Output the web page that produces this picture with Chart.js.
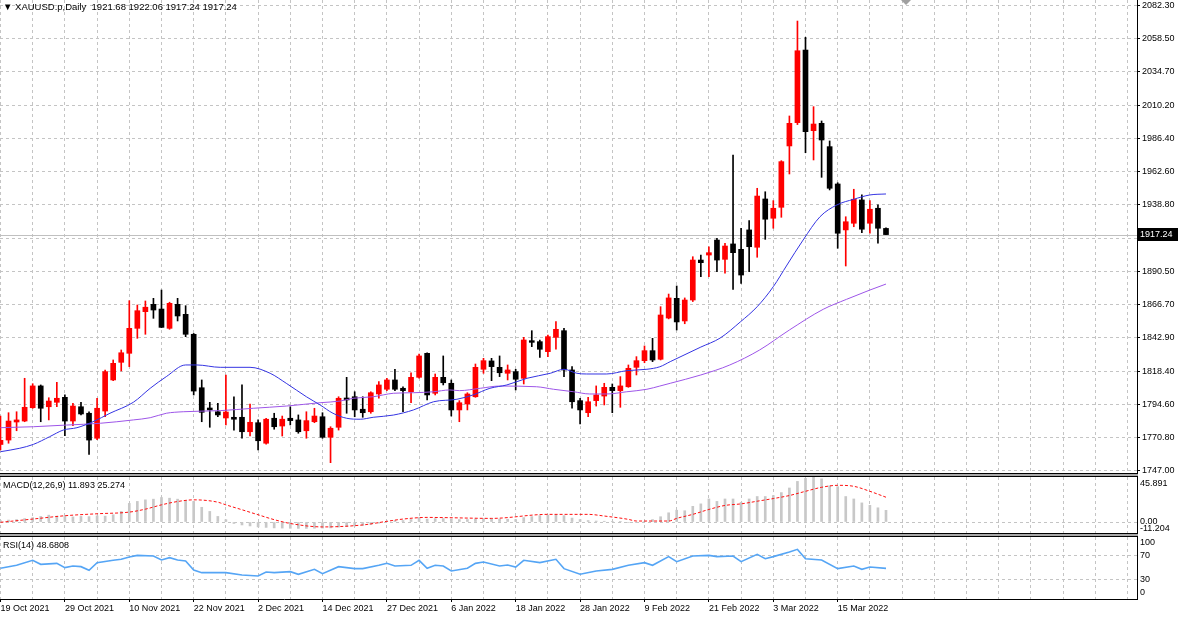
<!DOCTYPE html>
<html lang="en">
<head>
<meta charset="UTF-8">
<title>XAUUSD.p, Daily</title>
<script src="https://cdn.jsdelivr.net/npm/chart.js"></script>
<style>
    html, body { margin: 0; padding: 0; background: #fff; }
    #wrap { position: relative; width: 1178px; height: 617px; overflow: hidden; background: #fff;
            font-family: "Liberation Sans", Arial, sans-serif; }
    .pane { position: absolute; left: 0; width: 1178px; }
    .sep { position: absolute; left: 0; width: 1138px; height: 4px; box-sizing: border-box;
           border-top: 1px solid #000; border-bottom: 1px solid #000; background: #a8a8a8; }
    .caption { position: absolute; left: 3px; font-size: 9px; line-height: 10px; color: #000; white-space: pre; }
    .caption.head { font-size: 9.5px; }
    .shift { position: absolute; left: 901px; top: 0; width: 0; height: 0;
             border-left: 5px solid transparent; border-right: 5px solid transparent; border-top: 5px solid #a0a0a0; }
</style>
</head>
<body>
<div id="wrap">
    <div class="pane" style="top:0;height:477px"><canvas id="mainChart"></canvas></div>
    <div class="pane" style="top:477px;height:56px"><canvas id="macdChart"></canvas></div>
    <div class="pane" style="top:537px;height:80px"><canvas id="rsiChart"></canvas></div>
    <div class="sep" style="top:473px"></div>
    <div class="sep" style="top:533px"></div>
    <div class="shift"></div>
    <div class="caption head" style="top:2px">▼ XAUUSD.p,Daily  1921.68 1922.06 1917.24 1917.24</div>
    <div class="caption" style="top:480px">MACD(12,26,9) 11.893 25.274</div>
    <div class="caption" style="top:540px">RSI(14) 48.6808</div>
</div>

<script>
// date labels under the chart and the bar they belong to
const tickDates = ['19 Oct 2021', '29 Oct 2021', '10 Nov 2021', '22 Nov 2021', '2 Dec 2021', '14 Dec 2021',
    '27 Dec 2021', '6 Jan 2022', '18 Jan 2022', '28 Jan 2022', '9 Feb 2022', '21 Feb 2022', '3 Mar 2022', '15 Mar 2022'];
const tickBars = [0, 8, 16, 24, 32, 40, 48, 56, 64, 72, 80, 88, 96, 104];

// daily OHLC, bar 0 = 19 Oct 2021
const opens = [1766.0, 1769.2, 1782.2, 1782.9, 1792.5, 1808.2, 1793.2, 1796.4, 1800.0, 1782.9,
    1793.2, 1788.5, 1770.5, 1790.1, 1812.5, 1825.2, 1831.7, 1849.7, 1861.7, 1867.0,
    1863.6, 1849.7, 1867.0, 1859.8, 1845.4, 1806.9, 1792.3, 1789.6, 1785.1, 1785.6,
    1785.6, 1775.2, 1781.7, 1766.9, 1784.9, 1779.3, 1784.9, 1783.7, 1775.9, 1782.4,
    1786.0, 1771.2, 1778.4, 1799.5, 1800.4, 1791.4, 1789.6, 1802.4, 1805.8, 1812.5,
    1806.5, 1804.0, 1814.4, 1831.7, 1802.9, 1814.4, 1810.1, 1790.9, 1795.2, 1800.4,
    1820.2, 1826.2, 1821.6, 1817.3, 1818.5, 1813.7, 1840.8, 1840.1, 1832.9, 1843.2,
    1848.0, 1819.7, 1797.6, 1788.9, 1797.6, 1800.9, 1807.2, 1804.8, 1807.6, 1821.6,
    1826.4, 1833.6, 1827.4, 1857.1, 1871.3, 1855.0, 1870.1, 1898.9, 1902.5, 1913.3,
    1899.4, 1910.5, 1906.6, 1920.6, 1908.1, 1942.9, 1929.0, 1936.9, 1981.1, 1997.9,
    2050.2, 1992.1, 1997.4, 1980.6, 1953.7, 1920.6, 1925.4, 1942.2, 1925.4, 1936.2, 1921.68];
const highs = [1786.5, 1788.9, 1789.6, 1813.7, 1809.8, 1808.9, 1799.7, 1810.8, 1801.7, 1795.7,
    1796.4, 1789.6, 1799.3, 1819.7, 1826.9, 1834.1, 1869.6, 1866.5, 1869.4, 1871.3,
    1877.3, 1868.5, 1871.3, 1866.0, 1846.0, 1812.5, 1796.4, 1795.7, 1816.1, 1800.4,
    1808.9, 1795.2, 1783.7, 1784.9, 1788.5, 1786.5, 1793.2, 1787.3, 1789.6, 1792.1,
    1788.9, 1778.8, 1800.4, 1814.4, 1804.0, 1800.4, 1804.0, 1811.3, 1813.7, 1820.2,
    1807.6, 1817.7, 1831.2, 1832.1, 1816.8, 1829.8, 1812.5, 1797.6, 1803.3, 1824.0,
    1828.1, 1828.1, 1829.8, 1823.3, 1820.2, 1843.2, 1848.0, 1841.3, 1844.9, 1854.5,
    1849.7, 1822.1, 1799.3, 1800.0, 1808.2, 1810.1, 1809.6, 1814.9, 1823.3, 1829.3,
    1837.0, 1842.5, 1865.3, 1874.4, 1880.2, 1871.6, 1901.3, 1902.5, 1908.5, 1914.6,
    1911.0, 1974.6, 1921.8, 1927.3, 1950.6, 1948.1, 1941.7, 1970.5, 2002.7, 2071.1,
    2059.4, 2009.4, 1999.1, 1984.7, 1954.6, 1930.1, 1949.9, 1945.8, 1941.7, 1938.6, 1922.06];
const lows = [1762.0, 1766.9, 1775.9, 1782.4, 1792.1, 1782.4, 1783.7, 1793.2, 1772.3, 1779.5,
    1787.3, 1758.9, 1769.5, 1786.0, 1812.0, 1819.0, 1822.1, 1842.5, 1845.4, 1856.9,
    1850.2, 1849.0, 1855.0, 1843.7, 1801.7, 1782.4, 1778.4, 1786.0, 1780.1, 1776.4,
    1770.5, 1772.1, 1762.0, 1766.2, 1777.0, 1772.1, 1780.1, 1774.1, 1770.5, 1781.7,
    1770.5, 1752.9, 1776.4, 1788.5, 1786.0, 1785.6, 1788.5, 1799.3, 1804.8, 1804.8,
    1789.6, 1796.1, 1813.7, 1798.1, 1801.7, 1808.9, 1786.5, 1782.4, 1790.9, 1800.0,
    1817.3, 1812.0, 1814.9, 1812.5, 1805.3, 1809.6, 1836.5, 1828.8, 1829.3, 1834.6,
    1814.9, 1792.1, 1780.8, 1786.0, 1793.7, 1794.5, 1788.9, 1792.8, 1807.2, 1816.1,
    1824.9, 1825.7, 1826.9, 1856.5, 1848.5, 1853.0, 1869.0, 1886.9, 1886.9, 1890.5,
    1889.4, 1877.8, 1882.1, 1890.5, 1900.9, 1913.8, 1921.8, 1929.7, 1960.9, 1996.5,
    1976.2, 1971.0, 1958.5, 1949.4, 1907.4, 1894.6, 1922.9, 1918.6, 1918.2, 1911.0, 1917.24];
const closes = [1769.0, 1782.9, 1783.7, 1792.8, 1808.2, 1792.1, 1797.3, 1799.3, 1782.9, 1793.7,
    1788.0, 1769.2, 1792.1, 1818.5, 1824.5, 1832.1, 1849.7, 1862.4, 1864.9, 1862.9,
    1850.4, 1867.7, 1858.6, 1845.4, 1804.5, 1789.2, 1790.9, 1787.3, 1789.4, 1784.2,
    1775.2, 1782.0, 1768.7, 1784.2, 1778.8, 1784.2, 1783.2, 1775.2, 1783.2, 1786.5,
    1771.2, 1777.7, 1799.3, 1798.1, 1790.9, 1788.9, 1803.3, 1808.9, 1812.5, 1805.8,
    1804.8, 1814.4, 1829.8, 1801.7, 1814.4, 1810.5, 1790.9, 1796.1, 1802.4, 1821.6,
    1826.4, 1822.1, 1817.7, 1819.7, 1813.0, 1841.3, 1839.6, 1834.6, 1843.7, 1849.0,
    1819.7, 1796.8, 1790.9, 1796.8, 1801.7, 1807.2, 1804.8, 1808.2, 1820.9, 1826.4,
    1833.6, 1826.9, 1859.3, 1871.6, 1854.3, 1870.1, 1898.9, 1897.0, 1904.2, 1898.9,
    1909.0, 1904.2, 1888.1, 1908.5, 1945.0, 1928.3, 1936.2, 1969.8, 1997.4, 2049.7,
    1991.4, 1996.9, 1985.4, 1950.6, 1918.2, 1926.5, 1942.7, 1921.1, 1935.5, 1921.8, 1917.24];

// moving averages (bar position, price)
const maBlueBars = [0, 2.4, 4.1, 6.1, 7.8, 9.5, 11.5, 13.6, 16.5, 18.6, 20.6, 23, 24.4, 27.3, 31, 33.5, 35.5, 38,
    39.7, 41.3, 43, 44.7, 46.3, 48.8, 51.3, 53.8, 56.7, 58.7, 60.8, 62.9, 65.4, 68.3, 70, 71.6, 72.8, 75.3,
    77.8, 80.3, 81.9, 83.2, 87, 89.4, 91.9, 94, 96, 97.7, 99.7, 101.8, 103.9, 106, 108, 110];
const maBlueValues = [1760.8, 1763.3, 1766.1, 1771.6, 1776.4, 1778.1, 1782.4, 1788.5, 1796.4, 1806.5, 1814.9,
    1823.3, 1823.3, 1821.6, 1821.6, 1817.3, 1810.1, 1800.4, 1794.5, 1788.5, 1784.9, 1784.2, 1785.6, 1787.2,
    1790.9, 1796.8, 1798.6, 1801.7, 1806.5, 1808.9, 1813.7, 1817.3, 1820.2, 1817.3, 1816.8, 1816.8, 1819.2,
    1820.2, 1822.0, 1825.7, 1836.2, 1842.7, 1854.3, 1865.3, 1879.7, 1895.3, 1913.3, 1930.1, 1938.6, 1942.7,
    1945.8, 1946.5];
const maPurpleBars = [0, 4.1, 8.2, 12.4, 16.5, 18.6, 20.6, 22.7, 27.3, 31.4, 35.5, 39.7, 42.2, 43.8, 46.3, 48.8,
    51.3, 53.8, 55.8, 57, 59.6, 62, 66.6, 68.7, 71.2, 73.2, 75.3, 77.8, 80.3, 81.9, 83.2, 87, 90.6, 94.3, 98,
    102.2, 105.1, 108, 110];
const maPurpleValues = [1778.1, 1778.8, 1780.0, 1781.3, 1783.7, 1785.3, 1788.5, 1789.6, 1790.4, 1792.1, 1793.7,
    1796.1, 1797.3, 1799.3, 1800.4, 1802.9, 1803.3, 1804.0, 1805.3, 1804.8, 1806.5, 1808.1, 1807.6, 1805.8,
    1804.0, 1802.4, 1802.4, 1804.0, 1805.8, 1808.1, 1810.1, 1816.1, 1823.3, 1834.1, 1848.5, 1863.4, 1870.6,
    1877.3, 1881.6];

// MACD(12,26,9): main value per bar (histogram) and signal line points
const macdMain = [1.5, 2, 2.5, 3.5, 4.5, 5.7, 7, 6, 5.7, 5.2,
    5.7, 5.5, 6.3, 6, 7.4, 10.8, 19, 21, 22.6, 23.3,
    25, 24.3, 23.3, 22, 21, 15, 10.8, 5.7, 2.4, -1.5,
    -3, -4, -5, -5.5, -6, -6.2, -6.4, -6.5, -6.5, -6.3,
    -6.2, -6, -5.2, -4.5, -4, -3.5, -2.5, -1.2, 0.5, 1.5,
    1.5, 2.5, 4.5, 3, 3.5, 3.5, 3, 2.5, 2.5, 3,
    3.5, 3.5, 3, 2.8, 2.5, 4.5, 5.5, 6.5, 7, 7.5,
    6.5, 4, 2.5, 1.5, 1, 0.8, 0.3, 0.2, -0.5, -0.3,
    0.5, 2.5, 5.4, 9.4, 12, 11.5, 16, 18.5, 23.5, 21,
    23.5, 23.5, 20, 23.5, 26, 26, 27, 30, 34.7, 41.4,
    44.5, 45.891, 44, 37, 36, 26, 23.5, 19.5, 17, 14.5, 11.893];
const signalBars = [0, 4, 8, 12, 16, 18, 20, 22, 24, 27, 28, 30, 32, 34, 36, 40, 45, 48, 50, 53, 55, 61, 68, 73,
    75, 78, 79, 83, 84, 86, 88, 90, 92, 94, 96, 98, 100, 102, 104, 106, 108, 110];
const signalValues = [-0.3, 3, 6.4, 8.4, 10.1, 13.1, 17.5, 20.9, 22.6, 20.2, 17.5, 12.5, 7.4, 2.4, -1.5, -5, -3,
    0.7, 3, 4.7, 4.5, 3.7, 7.8, 7.8, 6.1, 2.7, 1.0, 1.0, 3.7, 7.8, 12.8, 16.9, 18.5, 21.2, 23.9, 27, 31.3, 35.4,
    37.4, 36.4, 31.3, 25.274];

// RSI(14) points
const rsiBars = [0, 2, 4, 5, 7, 8, 9, 10, 11, 12, 14, 15, 16, 17, 19, 20, 21, 22, 23, 24, 25, 28, 30, 32, 33,
    34, 36, 37, 39, 40, 42, 44, 45, 47, 48, 49, 51, 52, 53, 54, 55, 56, 58, 59, 60, 62, 63, 64, 65, 67, 69, 70,
    72, 74, 76, 78, 80, 81, 83, 84, 86, 88, 89, 91, 92, 94, 95, 96, 98, 99, 100, 102, 104, 106, 107, 108, 110];
const rsiValues = [48.9, 54, 62.6, 55.7, 57.4, 50, 52.9, 51.7, 45.4, 58.6, 62.6, 64.3, 68.3, 71.1, 70, 63.1,
    67.1, 63, 61.4, 46, 41.4, 41.4, 37.4, 35.7, 42.6, 41.4, 43.1, 38.6, 47.1, 39.7, 51.7, 48.3, 48.3, 54, 57.4,
    52.9, 54, 62.6, 48.9, 54, 52.9, 44.3, 48.9, 57.4, 59.7, 52.9, 54.6, 51.1, 62.6, 58.6, 64.3, 48.3, 38.6,
    44.3, 47.1, 54, 58.6, 54, 68.9, 60.3, 70, 71.1, 68.9, 70, 60.3, 72.9, 65.4, 68.9, 76.9, 81.4, 65.4, 63.1,
    48.3, 52.9, 47.1, 51.1, 48.68];

// axis labels
const priceTicks = [1747.00, 1770.80, 1794.60, 1818.40, 1842.90, 1866.70, 1890.50, 1914.70,
    1938.80, 1962.60, 1986.40, 2010.20, 2034.70, 2058.50, 2082.30];
const macdAxisLabels = [45.891, 0, -11.204];
const rsiAxisLabels = [100, 70, 30, 0];
const rsiLevels = [30, 70];

const X_MIN = -0.06, X_MAX = 141.18;
const AXIS_W = 41;
const FONT_FAMILY = '"Liberation Sans", Arial, sans-serif';
const FONT = { family: FONT_FAMILY, size: 9 };
const GRID = '#c4c4c4';
const BULL = '#ff0000', BEAR = '#000000';

const candleColor = i => closes[i] >= opens[i] ? BULL : BEAR;

function timeAxis(withLabels) {
    return {
        type: 'linear', min: X_MIN, max: X_MAX, offset: false,
        afterBuildTicks: s => {
            const t = [];
            for (let v = 0; v <= 140; v += 4) t.push({ value: v });
            s.ticks = t;
        },
        ticks: {
            display: withLabels, autoSkip: false, maxRotation: 0, minRotation: 0,
            align: 'start', padding: 1, color: '#000', font: FONT,
            callback: v => { const k = tickBars.indexOf(v); return k >= 0 ? tickDates[k] : ''; }
        },
        grid: {
            offset: false, color: GRID, lineWidth: 1, drawTicks: withLabels, tickLength: 3,
            tickColor: c => (c.tick && tickBars.includes(c.tick.value)) ? '#000' : 'rgba(0,0,0,0)'
        },
        border: { display: withLabels, color: '#000', width: 1, dash: [3, 3] },
        afterFit: s => { s.height = withLabels ? 18 : 0; s.paddingLeft = 0; s.paddingRight = 0; }
    };
}

function valueAxis(min, max, gridValues, showLabels) {
    return {
        position: 'right', min: min, max: max,
        afterBuildTicks: s => { s.ticks = gridValues.map(v => ({ value: v })); },
        ticks: { display: showLabels, color: '#000', font: FONT, padding: 2, callback: v => v.toFixed(2) },
        grid: { color: GRID, lineWidth: 1, drawTicks: showLabels, tickLength: 3, tickColor: '#000' },
        border: { display: true, color: '#000', width: 1, dash: [3, 3] },
        afterFit: s => { s.width = AXIS_W; s.paddingTop = 0; s.paddingBottom = 0; }
    };
}

const baseOptions = {
    responsive: true, maintainAspectRatio: false, animation: false, events: [],
    plugins: { legend: { display: false }, tooltip: { enabled: false } }
};

// last price line and black price tag
const lastPricePlugin = {
    id: 'lastPrice',
    beforeDatasetsDraw(chart) {
        const { ctx, chartArea } = chart;
        const y = Math.round(chart.scales.y.getPixelForValue(closes[closes.length - 1])) + 0.5;
        ctx.save();
        ctx.strokeStyle = '#c0c0c0';
        ctx.lineWidth = 1;
        ctx.beginPath(); ctx.moveTo(chartArea.left, y); ctx.lineTo(chartArea.right, y); ctx.stroke();
        ctx.restore();
    },
    afterDraw(chart) {
        const { ctx, chartArea } = chart;
        const last = closes[closes.length - 1];
        const y = Math.round(chart.scales.y.getPixelForValue(last));
        ctx.save();
        ctx.fillStyle = '#000';
        ctx.fillRect(chartArea.right + 1, y - 7, chart.width - chartArea.right - 1, 13);
        ctx.fillStyle = '#fff';
        ctx.font = '9px ' + FONT_FAMILY;
        ctx.textBaseline = 'middle';
        ctx.fillText(last.toFixed(2), chartArea.right + 3, y);
        ctx.restore();
    }
};

// labels of indicator windows, kept inside the window edges like the terminal does
function sideLabels(values, format) {
    return {
        id: 'sideLabels',
        afterDraw(chart) {
            const { ctx, chartArea } = chart;
            const s = chart.scales.y;
            ctx.save();
            ctx.font = '9px ' + FONT_FAMILY;
            ctx.fillStyle = '#000';
            ctx.textAlign = 'left';
            values.forEach(v => {
                let y = s.getPixelForValue(v);
                if (v === s.max) { ctx.textBaseline = 'top'; y += 2; }
                else if (v === s.min) { ctx.textBaseline = 'bottom'; }
                else ctx.textBaseline = 'middle';
                ctx.fillText(format(v), chartArea.right + 3, y);
            });
            ctx.restore();
        }
    };
}

new Chart(document.getElementById('mainChart'), {
    type: 'bar',
    data: {
        datasets: [
            {
                type: 'line', order: 0,
                data: maBlueBars.map((b, i) => ({ x: b, y: maBlueValues[i] })),
                borderColor: '#3434e2', borderWidth: 1, pointRadius: 0, cubicInterpolationMode: 'monotone'
            },
            {
                type: 'line', order: 0,
                data: maPurpleBars.map((b, i) => ({ x: b, y: maPurpleValues[i] })),
                borderColor: '#9d55e8', borderWidth: 1, pointRadius: 0, cubicInterpolationMode: 'monotone'
            },
            {
                order: 1, grouped: false, barThickness: 5, minBarLength: 1,
                data: opens.map((o, i) => ({ x: i, y: [o, closes[i]] })),
                backgroundColor: c => candleColor(c.dataIndex)
            },
            {
                order: 2, grouped: false, barThickness: 1,
                data: opens.map((o, i) => ({ x: i, y: [lows[i], highs[i]] })),
                backgroundColor: c => candleColor(c.dataIndex)
            }
        ]
    },
    options: Object.assign({}, baseOptions, {
        layout: { padding: { bottom: 4 } },
        scales: {
            x: timeAxis(false),
            y: valueAxis(1745.46, 2086.26, priceTicks, true)
        }
    }),
    plugins: [lastPricePlugin]
});

new Chart(document.getElementById('macdChart'), {
    type: 'bar',
    data: {
        datasets: [
            {
                type: 'line', order: 0,
                data: signalBars.map((b, i) => ({ x: b, y: signalValues[i] })),
                borderColor: '#ff1010', borderWidth: 1, borderDash: [3, 2], pointRadius: 0,
                cubicInterpolationMode: 'monotone'
            },
            {
                order: 1, barThickness: 2,
                data: macdMain.map((v, i) => ({ x: i, y: v })),
                backgroundColor: '#c8c8c8'
            }
        ]
    },
    options: Object.assign({}, baseOptions, {
        scales: {
            x: timeAxis(false),
            y: valueAxis(macdAxisLabels[2], macdAxisLabels[0], [0], false)
        }
    }),
    plugins: [sideLabels(macdAxisLabels, v => v === 0 ? '0.00' : v.toFixed(3))]
});

new Chart(document.getElementById('rsiChart'), {
    type: 'line',
    data: {
        datasets: [{
            data: rsiBars.map((b, i) => ({ x: b, y: rsiValues[i] })),
            borderColor: '#55a5f5', borderWidth: 1.6, pointRadius: 0
        }]
    },
    options: Object.assign({}, baseOptions, {
        scales: {
            x: timeAxis(true),
            y: valueAxis(-3.8, 102.6, rsiLevels, false)
        }
    }),
    plugins: [{
        id: 'rsiLabels',
        afterDraw(chart) {
            const { ctx, chartArea } = chart;
            const s = chart.scales.y;
            ctx.save();
            ctx.font = '9px ' + FONT_FAMILY;
            ctx.fillStyle = '#000';
            rsiAxisLabels.forEach(v => {
                const y = s.getPixelForValue(v);
                ctx.textBaseline = v === 100 ? 'top' : (v === 0 ? 'bottom' : 'middle');
                ctx.fillText(String(v), chartArea.right + 3, y);
            });
            ctx.restore();
        }
    }]
});
</script>
</body>
</html>
